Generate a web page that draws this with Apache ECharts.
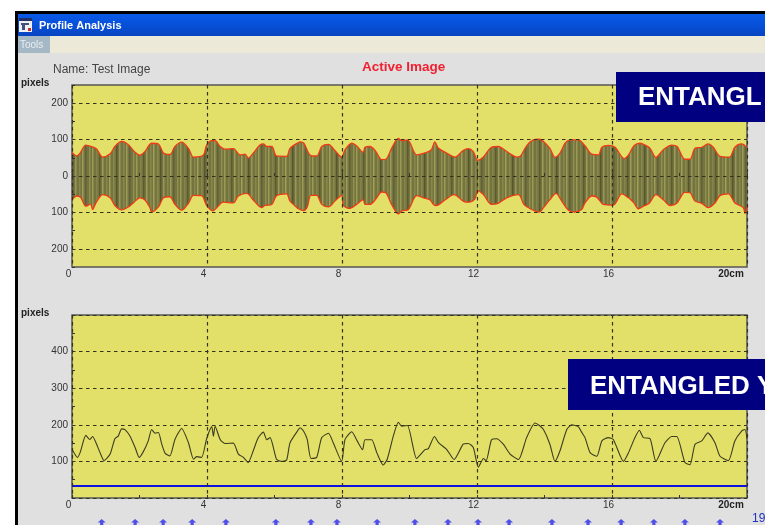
<!DOCTYPE html>
<html><head><meta charset="utf-8">
<style>html,body{margin:0;padding:0;background:#fff}#c{width:765px;height:525px}</style>
<script src="https://cdn.jsdelivr.net/npm/echarts@6/dist/echarts.min.js"></script>
</head><body><div id="c"></div>
<script>
const upperCm=[0,.14,.24,.41,.58,.73,.91,1.13,1.27,1.47,1.67,1.87,2.01,2.16,2.36,2.56,2.71,2.90,3.05,3.25,3.45,3.60,3.89,3.99,4.14,4.24,4.39,4.53,4.78,4.98,5.13,5.22,5.37,5.57,5.67,5.77,5.92,6.06,6.36,6.46,6.71,6.76,6.87,7.05,7.25,7.40,7.60,7.79,7.99,8.09,8.29,8.43,8.63,8.68,8.83,8.98,9.18,9.30,9.47,9.67,9.77,9.94,10.21,10.36,10.56,10.66,10.75,10.86,11.10,11.35,11.59,11.74,11.89,12.02,12.19,12.43,12.63,12.78,12.98,13.18,13.29,13.47,13.67,13.85,13.97,14.16,14.31,14.46,14.61,14.76,15.00,15.20,15.40,15.60,15.70,15.89,16.09,16.36,16.49,16.65,16.83,16.98,17.13,17.30,17.52,17.77,17.93,18.16,18.31,18.46,18.66,18.84,19.00,19.20,19.48,19.64,19.84,20];
const upperPx=[65,55,63,85,81,74,52,61,81,95,86,65,57,67,90,88,63,59,81,93,76,52,57,85,97,97,81,74,75,58,60,49,63,85,88,81,81,55,54,76,92,94,90,58,55,81,87,70,52,72,90,83,65,79,81,70,45,46,76,103,97,99,58,61,67,74,94,76,63,52,70,75,67,43,52,79,81,74,61,52,55,83,99,101,95,76,51,63,90,99,99,83,60,58,79,84,79,48,58,83,90,85,76,51,72,85,81,46,46,76,79,88,79,54,52,79,88,79];
const lowerCm=[0,.14,.26,.41,.55,.61,.71,.91,1.13,1.27,1.47,1.67,1.84,2.01,2.16,2.31,2.36,2.56,2.71,2.90,3.05,3.25,3.45,3.60,3.84,3.99,4.17,4.29,4.48,4.78,4.93,5.18,5.37,5.62,5.72,5.92,6.06,6.36,6.46,6.71,6.76,6.86,6.97,7.08,7.25,7.40,7.60,7.79,7.99,8.04,8.24,8.43,8.63,8.68,8.83,8.98,9.18,9.30,9.47,9.67,9.77,9.97,10.21,10.41,10.61,10.71,10.79,11.05,11.32,11.59,11.74,11.94,12.02,12.19,12.43,12.63,12.88,13.23,13.39,13.62,13.85,13.97,14.16,14.34,14.51,14.71,14.90,15.10,15.20,15.40,15.55,15.74,16.04,16.29,16.49,16.65,16.78,16.93,17.11,17.30,17.52,17.72,17.92,18.16,18.31,18.46,18.66,18.85,19.05,19.20,19.45,19.64,19.89,19.94,20];
const lowerPx=[-65,-55,-59,-83,-77,-92,-74,-51,-60,-81,-93,-85,-72,-60,-66,-87,-99,-85,-60,-57,-78,-94,-75,-53,-54,-81,-96,-87,-72,-74,-55,-48,-66,-87,-81,-78,-54,-49,-69,-90,-92,-95,-85,-53,-53,-78,-85,-69,-53,-81,-89,-78,-65,-78,-78,-66,-44,-46,-78,-104,-96,-92,-54,-60,-66,-78,-81,-66,-51,-69,-72,-63,-40,-51,-78,-75,-60,-51,-78,-92,-99,-87,-65,-48,-69,-94,-99,-92,-74,-55,-58,-78,-80,-49,-60,-74,-90,-83,-74,-51,-65,-81,-75,-45,-46,-69,-75,-87,-74,-54,-49,-74,-87,-103,-83];
const widthCm=[0,.16,.24,.41,.53,.61,.71,.83,.95,1.13,1.27,1.37,1.47,1.57,1.72,1.87,1.99,2.11,2.26,2.36,2.46,2.56,2.66,2.76,2.90,3.05,3.25,3.45,3.60,3.69,3.84,3.99,4.14,4.19,4.24,4.39,4.53,4.78,4.93,5.08,5.22,5.37,5.52,5.67,5.77,5.87,6.06,6.21,6.36,6.46,6.71,6.76,6.86,6.97,7.08,7.25,7.40,7.60,7.74,7.99,8.09,8.29,8.45,8.61,8.68,8.88,9.03,9.22,9.34,9.52,9.67,9.77,9.94,10.21,10.46,10.56,10.74,10.86,11.10,11.32,11.59,11.74,11.89,12.04,12.19,12.27,12.43,12.58,12.78,12.98,13.23,13.47,13.72,13.85,13.97,14.16,14.31,14.46,14.66,14.81,15.00,15.10,15.20,15.35,15.55,15.70,15.89,16.04,16.34,16.49,16.68,16.81,16.93,17.13,17.30,17.57,17.77,17.92,18.16,18.31,18.46,18.66,18.84,19.05,19.20,19.45,19.64,19.84,19.94,20];
const widthPx=[133,111,124,171,160,168,151,124,102,120,162,169,189,187,169,138,111,126,156,187,177,179,147,122,115,160,190,151,106,113,111,162,195,169,196,160,149,150,120,111,97,129,165,180,159,165,106,100,104,151,187,192,183,160,108,111,165,177,151,100,160,181,156,132,159,159,124,90,106,169,207,196,198,108,132,135,168,151,133,105,147,149,138,84,108,102,159,162,147,120,105,165,205,198,187,147,100,129,187,200,195,180,165,124,114,156,165,160,100,124,165,185,165,162,100,151,168,168,97,91,147,156,178,151,114,102,156,183,187,162];
const baselineCm=[0,20];
const baselinePx=[33,33];
const markerCm=[.88,1.87,2.70,3.56,4.56,6.04,7.08,7.85,9.04,10.16,11.14,12.03,12.95,14.22,15.29,16.27,17.24,18.16,19.2];
const markerPx=markerCm.map(()=>-68);
const topTicks=[-200,-100,0,100,200];
const zip=(a,b)=>a.map((v,i)=>[v,b[i]]);

const stripes=document.createElement('canvas');
stripes.width=44;stripes.height=4;
(function(){
  const g=stripes.getContext('2d');
  g.fillStyle='#74743f';g.fillRect(0,0,44,4);
  [[1,'#8f8f50'],[4,'#9a9a56'],[8,'#84844a'],[11,'#5c5c32'],[14,'#9c9c58'],[18,'#88884c'],[21,'#a0a05a'],
   [25,'#8a8a4c'],[28,'#565630'],[31,'#96965a'],[35,'#88884c'],[38,'#9c9c58'],[41,'#60603a']].forEach(s=>{
    g.fillStyle=s[1];g.fillRect(s[0],0,1.5,4);
  });
})();

const FONT='"Liberation Sans",Arial,sans-serif';
const plotBg='#e2e068';
const dash={color:'#33331c',width:1.2,type:[3.5,3.5]};
const xAxisBase=(idx)=>({
  type:'value',gridIndex:idx,min:0,max:20,interval:4,z:5,
  axisLine:{show:false},
  axisTick:{show:false},
  splitLine:{show:true,lineStyle:dash},
  axisLabel:{
    margin:2,color:'#333',fontFamily:FONT,fontSize:10,hideOverlap:false,showMinLabel:true,showMaxLabel:true,
    formatter:v=>v===20?'{u|20cm}':'{n|'+v+'}',
    rich:{n:{padding:[0,7,0,0],color:'#333',fontSize:10,fontFamily:FONT},
          u:{padding:[0,32,0,0],color:'#222',fontSize:10,fontWeight:'bold',fontFamily:FONT}}
  }
});
const shortX=(idx)=>({
  type:'value',gridIndex:idx,min:0,max:20,interval:2,position:'bottom',z:5,
  axisLine:{show:false},axisLabel:{show:false},splitLine:{show:false},
  axisTick:{show:true,inside:true,length:3,lineStyle:{color:'#333'}}
});
const short=(idx,min,max)=>({
  type:'value',gridIndex:idx,min,max,interval:50,position:'left',z:5,
  axisLine:{show:false},axisLabel:{show:false},splitLine:{show:false},
  axisTick:{show:true,inside:true,length:3,lineStyle:{color:'#333'}}
});

const option={
  animation:false,
  backgroundColor:'#e0e0e0',
  grid:[
    {left:72,top:85,width:675,height:182,show:true,backgroundColor:plotBg,borderColor:'#555',borderWidth:1.5,z:0},
    {left:72,top:315,width:675,height:183,show:true,backgroundColor:plotBg,borderColor:'#555',borderWidth:1.5,z:0}
  ],
  xAxis:[xAxisBase(0),xAxisBase(1),shortX(0),shortX(1)],
  yAxis:[
    {type:'value',gridIndex:0,min:-250,max:250,z:5,
     axisLine:{show:false},
     axisTick:{show:false,customValues:topTicks},
     splitLine:{show:true,lineStyle:dash},
     axisLabel:{customValues:topTicks,margin:4,color:'#333',fontFamily:FONT,fontSize:10,formatter:v=>String(Math.abs(v))}},
    {type:'value',gridIndex:1,min:0,max:500,interval:100,z:5,
     axisLine:{show:false},axisTick:{show:false},
     splitLine:{show:true,lineStyle:dash},
     axisLabel:{margin:4,color:'#333',fontFamily:FONT,fontSize:10,
       formatter:v=>(v===0||v===500)?'':String(v)}},
    short(0,-250,250),
    short(1,0,500)
  ],
  series:[
    {type:'line',xAxisIndex:0,yAxisIndex:0,data:zip(upperCm,upperPx),symbol:'none',z:2,smooth:0.3,
     lineStyle:{color:'#ee3a18',width:1.3},areaStyle:{origin:'auto',opacity:1,color:{image:stripes,repeat:'repeat'}}},
    {type:'line',xAxisIndex:0,yAxisIndex:0,data:zip(lowerCm,lowerPx),symbol:'none',z:2,smooth:0.3,
     lineStyle:{color:'#ee3a18',width:1.3},areaStyle:{origin:'auto',opacity:1,color:{image:stripes,repeat:'repeat'}}},
    {type:'line',xAxisIndex:1,yAxisIndex:1,data:zip(widthCm,widthPx),symbol:'none',z:2,smooth:0.2,
     lineStyle:{color:'#3c3c20',width:1.1}},
    {type:'line',xAxisIndex:1,yAxisIndex:1,data:zip(baselineCm,baselinePx),symbol:'none',z:2,
     lineStyle:{color:'#1010e0',width:2}},
    {type:'scatter',xAxisIndex:1,yAxisIndex:1,data:zip(markerCm,markerPx),clip:false,z:3,
     symbol:'path://M5 0 L10 4.5 L7 4.5 L7 10 L3 10 L3 4.5 L0 4.5 Z',symbolSize:8,
     itemStyle:{color:'#2a2ae8'}}
  ],
  graphic:[
    {type:'rect',z:1,silent:true,shape:{x:0,y:0,width:765,height:11},style:{fill:'#fff'}},
    {type:'rect',z:1,silent:true,shape:{x:0,y:0,width:15,height:525},style:{fill:'#fff'}},
    {type:'rect',z:1,silent:true,shape:{x:15,y:11,width:750,height:3},style:{fill:'#000'}},
    {type:'rect',z:1,silent:true,shape:{x:15,y:11,width:3,height:514},style:{fill:'#000'}},
    {type:'rect',z:1,silent:true,shape:{x:18,y:14,width:747,height:22},
      style:{fill:new echarts.graphic.LinearGradient(0,0,0,1,[{offset:0,color:'#0a5ae8'},{offset:.5,color:'#0650d8'},{offset:1,color:'#0844c0'}])}},
    {type:'rect',z:1,silent:true,shape:{x:18,y:36,width:747,height:17},style:{fill:'#ece9d8'}},
    {type:'rect',z:2,silent:true,shape:{x:18,y:36,width:32,height:17},style:{fill:'#a4b8c6'}},
    {type:'text',z:3,silent:true,x:20,y:40,style:{text:'Tools',fill:'#e8eef0',font:'10px '+FONT}},
    {type:'rect',z:2,silent:true,shape:{x:19,y:18,width:13,height:14},style:{fill:'#f0f0f4'}},
    {type:'rect',z:3,silent:true,shape:{x:19,y:18,width:13,height:3},style:{fill:'#20306a'}},
    {type:'rect',z:3,silent:true,shape:{x:21,y:23,width:8,height:2},style:{fill:'#405080'}},
    {type:'rect',z:3,silent:true,shape:{x:22,y:25,width:3,height:5},style:{fill:'#405080'}},
    {type:'rect',z:3,silent:true,shape:{x:28,y:28,width:3,height:3},style:{fill:'#c03030'}},
    {type:'text',z:3,silent:true,x:39,y:20,style:{text:'Profile Analysis',fill:'#fff',font:'bold 11px '+FONT}},
    {type:'text',z:3,silent:true,x:53,y:64,style:{text:'Name: Test Image',fill:'#444',font:'12px '+FONT}},
    {type:'text',z:3,silent:true,x:362,y:60,style:{text:'Active Image',fill:'#f02030',font:'bold 13.5px '+FONT}},
    {type:'text',z:3,silent:true,x:21,y:78,style:{text:'pixels',fill:'#222',font:'bold 10px '+FONT}},
    {type:'text',z:3,silent:true,x:21,y:308,style:{text:'pixels',fill:'#222',font:'bold 10px '+FONT}},
    {type:'text',z:3,silent:true,x:752,y:513,style:{text:'19',fill:'#2030c0',font:'12px '+FONT}},
    {type:'rect',z:100,silent:true,shape:{x:616,y:72,width:149,height:50},style:{fill:'#000080'}},
    {type:'text',z:101,silent:true,x:638,y:85,style:{text:'ENTANGL',fill:'#fff',font:'bold 26px '+FONT}},
    {type:'rect',z:100,silent:true,shape:{x:568,y:359,width:197,height:51},style:{fill:'#000080'}},
    {type:'text',z:101,silent:true,x:590,y:374,style:{text:'ENTANGLED Y',fill:'#fff',font:'bold 26px '+FONT}}
  ]
};
const chart=echarts.init(document.getElementById('c'),null,{renderer:'canvas',width:765,height:525});
chart.setOption(option);
</script></body></html>
